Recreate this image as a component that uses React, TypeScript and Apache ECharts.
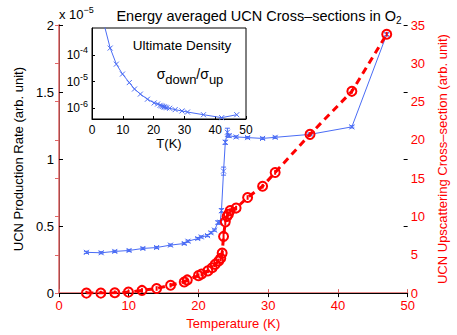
import React, { useEffect, useRef } from "react";
import * as echarts from "echarts";

// ---- Data ----
const blueT = [3.93, 6.05, 8.0, 10.05, 12.03, 14.0, 15.99, 17.96, 18.5, 19.9, 20.4, 21.3, 21.8, 22.3, 22.8, 23.1, 23.3, 23.6, 23.85, 24.15, 24.4, 25.4, 27.05, 29.2, 31.0, 36.0, 42.0, 47.0];
const blueY = [0.304, 0.301, 0.311, 0.318, 0.333, 0.34, 0.358, 0.37, 0.387, 0.407, 0.419, 0.429, 0.45, 0.47, 0.526, 0.529, 0.615, 0.91, 1.125, 1.2, 1.174, 1.165, 1.16, 1.154, 1.162, 1.184, 1.24, 1.93];
const blueErr = [0.008, 0.008, 0.008, 0.008, 0.008, 0.008, 0.008, 0.008, 0.008, 0.008, 0.008, 0.008, 0.008, 0.008, 0.012, 0.012, 0.015, 0.03, 0.015, 0.03, 0.012, 0.008, 0.008, 0.008, 0.008, 0.008, 0.008, 0.01];

const redT = [3.93, 6.0, 8.0, 9.96, 11.9, 14.0, 16.0, 17.96, 18.4, 20.0, 20.45, 21.35, 21.96, 22.4, 22.9, 23.2, 23.4, 23.6, 23.85, 24.1, 24.3, 24.55, 25.4, 27.05, 29.2, 31.0, 36.0, 42.0, 47.0];
const redY = [0.0, 0.0, 0.04, 0.13, 0.35, 0.6, 1.03, 1.45, 1.72, 2.28, 2.49, 2.9, 3.3, 3.75, 4.2, 4.54, 5.22, 7.4, 9.3, 10.0, 10.3, 10.77, 11.1, 12.48, 13.95, 15.75, 20.72, 26.34, 33.8];
const redErr = [0.3, 0.3, 0.3, 0.3, 0.3, 0.3, 0.3, 0.3, 0.3, 0.3, 0.3, 0.3, 0.3, 0.3, 0.3, 0.4, 0.5, 0.7, 0.5, 0.3, 0.3, 0.3, 0.3, 0.3, 0.3, 0.3, 0.3, 0.3, 0.3];

const insetT = [4.0, 5.9, 7.9, 9.9, 12.1, 13.8, 15.7, 18.0, 20.2, 21.3, 22.1, 22.6, 23.0, 23.4, 23.8, 24.3, 25.2, 27.0, 29.2, 31.0, 36.2, 42.1, 47.0];
const insetLog = [-2.9, -3.75, -4.35, -4.72, -5.04, -5.28, -5.47, -5.66, -5.8, -5.84, -5.89, -5.91, -5.93, -5.95, -5.96, -5.98, -6.0, -6.05, -6.1, -6.14, -6.24, -6.35, -6.24];

const leftTicks = [0, 0.5, 1, 1.5, 2];
const rightTicks = [0, 5, 10, 15, 20, 25, 30, 35];
const xTicks = [0, 10, 20, 30, 40, 50];
const insetYTicks = [-6, -5, -4];

const BLUE = "#4a6cf5";
const RED = "#ff0000";
const AXRED = "#e06666";
const FONT = "Liberation Sans, Arial, sans-serif";

function errorSeries(xi: number, yi: number, xs: number[], ys: number[], es: number[], color: string, cap: number, lw: number, z: number) {
  return {
    type: "custom",
    xAxisIndex: xi,
    yAxisIndex: yi,
    z,
    clip: true,
    data: xs.map((x, i) => [x, ys[i] - es[i], ys[i] + es[i]]),
    encode: { x: 0, y: [1, 2] },
    renderItem: (params: any, api: any) => {
      const x = api.value(0);
      const p1 = api.coord([x, api.value(1)]);
      const p2 = api.coord([x, api.value(2)]);
      const st = { stroke: color, lineWidth: lw };
      return {
        type: "group",
        children: [
          { type: "line", shape: { x1: p1[0], y1: p1[1], x2: p2[0], y2: p2[1] }, style: st },
          { type: "line", shape: { x1: p1[0] - cap, y1: p1[1], x2: p1[0] + cap, y2: p1[1] }, style: st },
          { type: "line", shape: { x1: p2[0] - cap, y1: p2[1], x2: p2[0] + cap, y2: p2[1] }, style: st },
        ],
      };
    },
  };
}

const X_SYMBOL = "path://M0,0L10,10M10,0L0,10";

export default function App() {
  const ref = useRef<HTMLDivElement>(null);
  useEffect(() => {
    if (!ref.current) return;
    const chart = echarts.init(ref.current, null, { renderer: "svg" });
    const option: any = {
      animation: false,
      backgroundColor: "#fff",
      textStyle: { fontFamily: FONT },
      title: {
        text: "{t|Energy averaged UCN Cross\u2013sections in O}{s|2}",
        left: 254,
        textAlign: "center",
        top: 1,
        textStyle: {
          fontWeight: "normal",
          rich: {
            t: { fontSize: 14.5, color: "#000", fontFamily: FONT, fontWeight: "normal" },
            s: { fontSize: 10, color: "#000", fontFamily: FONT, fontWeight: "normal", padding: [9, 0, 0, 0] },
          },
        },
      },
      grid: [
        { left: 59, right: 44, top: 25, bottom: 38 },
        { left: 92, top: 28, width: 154, height: 91, show: true, backgroundColor: "#fff", borderColor: "#000", borderWidth: 1, z: 5 },
      ],
      xAxis: [
        {
          type: "value", gridIndex: 0, min: 0, max: 50, interval: 10,
          axisLine: { show: true, lineStyle: { color: AXRED, width: 1.5 } },
          axisTick: { show: true, inside: true, length: 4, lineStyle: { color: AXRED } },
          axisLabel: { color: RED, fontSize: 13, fontFamily: FONT, margin: 6 },
          splitLine: { show: false },
          name: "Temperature (K)", nameLocation: "middle", nameGap: 21,
          nameTextStyle: { color: RED, fontSize: 13, fontFamily: FONT },
        },
        {
          type: "value", gridIndex: 0, min: 0, max: 50, interval: 10, position: "top",
          axisLine: { show: true, lineStyle: { color: "#000", width: 1 } },
          axisTick: { show: true, inside: true, length: 4, lineStyle: { color: "#000" } },
          axisLabel: { show: false },
          splitLine: { show: false },
        },
        {
          type: "value", gridIndex: 1, min: 0, max: 50, interval: 10,
          axisLine: { show: true, onZero: false, lineStyle: { color: "#000", width: 1 } },
          axisTick: { show: true, inside: true, length: 3, lineStyle: { color: "#000" } },
          axisLabel: { color: "#000", fontSize: 12, fontFamily: FONT, margin: 5 },
          splitLine: { show: false },
          name: "T(K)", nameLocation: "middle", nameGap: 17,
          nameTextStyle: { color: "#000", fontSize: 13, fontFamily: FONT },
          z: 6,
        },
      ],
      yAxis: [
        {
          type: "value", gridIndex: 0, min: 0, max: 2, interval: 0.5, position: "left",
          axisLine: { show: true, lineStyle: { color: "#000", width: 1 } },
          axisTick: { show: true, inside: true, length: 4, lineStyle: { color: "#000" } },
          axisLabel: { color: "#000", fontSize: 13, fontFamily: FONT, margin: 5, formatter: (v: number) => String(v) },
          splitLine: { show: false },
          name: "UCN Production Rate (arb. unit)", nameLocation: "middle", nameGap: 26,
          nameTextStyle: { color: "#000", fontSize: 13, fontFamily: FONT },
        },
        {
          type: "value", gridIndex: 0, min: 0, max: 35, interval: 5, position: "right",
          axisLine: { show: true, lineStyle: { color: AXRED, width: 1.5 } },
          axisTick: { show: true, inside: true, length: 4, lineStyle: { color: AXRED } },
          axisLabel: { color: RED, fontSize: 13, fontFamily: FONT, margin: 3 },
          splitLine: { show: false },
          name: "UCN Upscattering Cross\u2013section (arb. unit)", nameLocation: "middle", nameGap: 22,
          nameRotate: 90,
          nameTextStyle: { color: RED, fontSize: 13, fontFamily: FONT },
        },
        {
          type: "value", gridIndex: 1, min: -6.4, max: -3,
          axisLine: { show: true, lineStyle: { color: "#000", width: 1 } },
          axisTick: { show: true, inside: true, length: 3, customValues: insetYTicks, lineStyle: { color: "#000" } },
          axisLabel: {
            customValues: insetYTicks, margin: 4,
            formatter: (v: number) => "{b|10}{s|" + String(Math.round(v)) + "}",
            rich: {
              b: { fontSize: 12, color: "#000", fontFamily: FONT },
              s: { fontSize: 9, color: "#000", fontFamily: FONT, padding: [0, 0, 9, 0] },
            },
          },
          splitLine: { show: false },
          z: 6,
        },
        {
          type: "value", gridIndex: 0, min: 0, max: 2, interval: 0.5, position: "right",
          axisLine: { show: false },
          axisTick: { show: true, inside: true, length: 4, lineStyle: { color: "#000" } },
          axisLabel: { show: false },
          splitLine: { show: false },
        },
      ],
      graphic: [
        {
          type: "text", left: 59, top: 5, z: 10,
          style: {
            text: "{b|x 10}{s|\u22125}",
            rich: {
              b: { fontSize: 13, fill: "#000", fontFamily: FONT },
              s: { fontSize: 9, fill: "#000", fontFamily: FONT, padding: [0, 0, 9, 0] },
            },
          },
        },
        {
          type: "text", x: 182, y: 45, z: 10,
          style: { text: "Ultimate Density", fontSize: 13.5, fill: "#000", fontFamily: FONT, align: "center", verticalAlign: "middle" },
        },
        {
          type: "text", x: 190, y: 74, z: 10,
          style: {
            text: "{a|\u03c3}{s|down}{a|/\u03c3}{s|up}",
            align: "center", verticalAlign: "middle",
            rich: {
              a: { fontSize: 14, fill: "#000", fontFamily: FONT },
              s: { fontSize: 13, fill: "#000", fontFamily: FONT, padding: [10, 0, 0, 0] },
            },
          },
        },
      ],
      series: [
        errorSeries(0, 1, redT, redY, redErr, RED, 0, 2, 3),
        {
          type: "line", xAxisIndex: 0, yAxisIndex: 1, z: 4,
          data: redT.map((t, i) => [t, redY[i]]),
          symbol: "circle", symbolSize: 9,
          itemStyle: { color: "rgba(255,255,255,0)", borderColor: RED, borderWidth: 2 },
          lineStyle: { color: RED, width: 3, type: [7, 5] },
        },
        errorSeries(0, 0, blueT, blueY, blueErr, BLUE, 2.5, 1, 2),
        {
          type: "line", xAxisIndex: 0, yAxisIndex: 0, z: 2,
          data: blueT.map((t, i) => [t, blueY[i]]),
          symbol: X_SYMBOL, symbolSize: 5,
          itemStyle: { color: "rgba(0,0,0,0)", borderColor: BLUE, borderWidth: 1 },
          lineStyle: { color: BLUE, width: 1 },
        },
        {
          type: "line", xAxisIndex: 2, yAxisIndex: 2, z: 7, clip: true,
          data: insetT.map((t, i) => (i === 0 ? { value: [t, insetLog[i]], symbol: "none" } : [t, insetLog[i]])),
          symbol: X_SYMBOL, symbolSize: 5,
          itemStyle: { color: "rgba(0,0,0,0)", borderColor: BLUE, borderWidth: 1 },
          lineStyle: { color: BLUE, width: 1 },
        },
      ],
    };
    chart.setOption(option);
    return () => chart.dispose();
  }, []);
  return <div ref={ref} style={{ width: 457, height: 335, position: "absolute", left: 0, top: 0 }} />;
}
